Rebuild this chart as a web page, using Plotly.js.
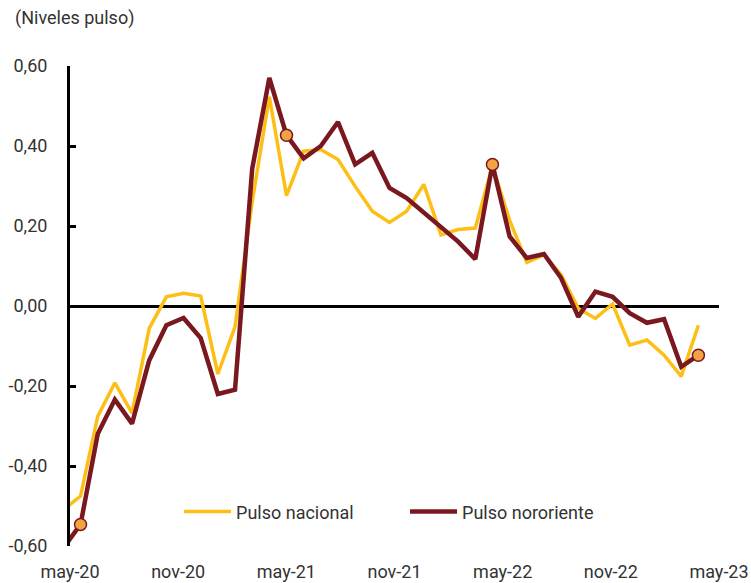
<!DOCTYPE html>
<html>
<head>
<meta charset="utf-8">
<script src="https://cdn.plot.ly/plotly-3.0.1.min.js"></script>
<style>html,body{margin:0;padding:0;background:#fff;}#chart{width:751px;height:583px;}</style>
</head>
<body>
<div id="chart"></div>
<script>
// Months (abr-20 .. may-23)
const months = ["abr-20","may-20","jun-20","jul-20","ago-20","sep-20","oct-20","nov-20","dic-20",
  "ene-21","feb-21","mar-21","abr-21","may-21","jun-21","jul-21","ago-21","sep-21","oct-21","nov-21","dic-21",
  "ene-22","feb-22","mar-22","abr-22","may-22","jun-22","jul-22","ago-22","sep-22","oct-22","nov-22","dic-22",
  "ene-23","feb-23","mar-23","abr-23","may-23"];

const pulsoNacional = [-0.510,-0.475,-0.276,-0.192,-0.268,-0.056,0.023,0.032,0.025,
  -0.170,-0.052,0.260,0.523,0.276,0.387,0.391,0.366,0.299,0.237,0.209,0.237,
  0.304,0.178,0.191,0.195,0.350,0.214,0.109,0.128,0.078,-0.006,-0.031,0.005,
  -0.098,-0.085,-0.123,-0.176,-0.048];

const pulsoNororiente = [-0.605,-0.546,-0.320,-0.234,-0.294,-0.136,-0.048,-0.030,-0.080,
  -0.220,-0.209,0.343,0.570,0.427,0.369,0.400,0.460,0.354,0.383,0.295,0.270,
  0.233,0.195,0.161,0.117,0.354,0.174,0.120,0.130,0.070,-0.027,0.036,0.023,
  -0.018,-0.042,-0.033,-0.152,-0.123];

const markerMonths = ["may-20","may-21","may-22","may-23"];

const xTickLabels = ["may-20","nov-20","may-21","nov-21","may-22","nov-22","may-23"];
const yTickVals = [-0.6,-0.4,-0.2,0,0.2,0.4,0.6];
const yTickLabels = ["-0,60","-0,40","-0,20","0,00","0,20","0,40","0,60"];

const idx = months.map((m,i)=>i);
const mIdx = markerMonths.map(m=>months.indexOf(m));
const mVal = mIdx.map(i=>pulsoNororiente[i]);

const xr = [0.385, 38.2];
const xTickVals = xTickLabels.map((t,k)=> xr[0] + k*(xr[1]-xr[0])/(xTickLabels.length-1));

const YELLOW = "#FDBE16";
const RED = "#7A1820";
const TXT = "#333333";
const FS = 18;

const traces = [
  {x: idx, y: pulsoNacional, text: months, type: "scatter", mode: "lines", name: "Pulso nacional",
   line: {color: YELLOW, width: 3.5}},
  {x: idx, y: pulsoNororiente, text: months, type: "scatter", mode: "lines", name: "Pulso nororiente",
   line: {color: RED, width: 4.5}},
  {x: mIdx, y: mVal, type: "scatter", mode: "markers", showlegend: false,
   marker: {size: 12, color: "#F2A443", line: {color: RED, width: 1.5}}}
];

const layout = {
  width: 751, height: 583,
  margin: {l: 70, r: 32, t: 66, b: 37},
  paper_bgcolor: "#fff", plot_bgcolor: "#fff",
  font: {family: "Roboto, Arial, sans-serif", size: FS, color: TXT},
  title: {text: "(Niveles pulso)", font: {size: FS, color: TXT}, xref: "container", yref: "container",
          x: 15/751, xanchor: "left", y: 1-18/583, yanchor: "middle"},
  xaxis: {range: xr, showgrid: false, zeroline: false, showline: false,
          tickmode: "array", tickvals: xTickVals, ticktext: xTickLabels, ticks: "",
          ticklabelstandoff: 13,
          tickfont: {size: FS, color: TXT}, automargin: false},
  yaxis: {range: [-0.6, 0.6], showgrid: false, zeroline: true, zerolinecolor: "#000", zerolinewidth: 3,
          showline: true, linecolor: "#000", linewidth: 3, ticks: "inside", ticklen: 6, tickwidth: 3, tickcolor: "#000",
          tickmode: "array", tickvals: yTickVals, ticktext: yTickLabels, ticklabelstandoff: 16,
          tickfont: {size: FS, color: TXT}, automargin: false},
  showlegend: true,
  legend: {orientation: "h", x: 0.168, xanchor: "left", y: 0.071, yanchor: "middle",
           font: {size: FS, color: TXT}, bgcolor: "rgba(0,0,0,0)", itemwidth: 47,
           entrywidth: 164, entrywidthmode: "pixels"},
};

Plotly.newPlot("chart", traces, layout, {displayModeBar: false, staticPlot: true});
</script>
</body>
</html>
